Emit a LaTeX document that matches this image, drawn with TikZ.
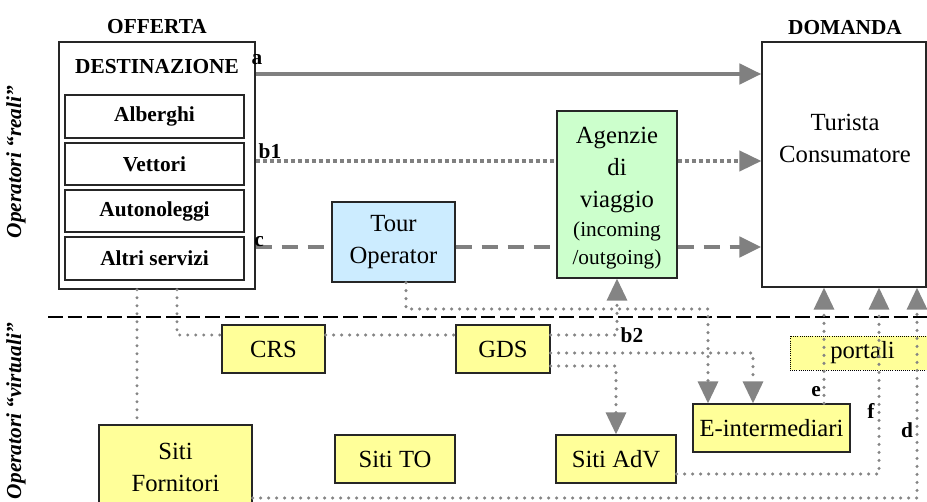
\documentclass[tikz,border=0pt]{standalone}
\usepackage{fontspec}
\setmainfont{Liberation Serif}
\usetikzlibrary{arrows.meta,calc}
\definecolor{ygold}{RGB}{255,255,153}
\definecolor{agreen}{RGB}{204,255,204}
\definecolor{tblue}{RGB}{204,236,255}
\definecolor{lgray}{RGB}{128,128,128}
\definecolor{dgray}{RGB}{132,132,132}
\newcommand\mainf{\fontsize{18.5}{24}\selectfont}
\newcommand\labf{\fontsize{16}{19}\selectfont\bfseries}
\newcommand\smallf{\fontsize{16}{21}\selectfont}
\begin{document}
\begin{tikzpicture}[x=0.75pt,y=-0.75pt,
  >={Triangle[length=16.5pt,width=15pt]},
  box/.style={draw=black!85, line width=0.9pt, inner sep=0pt, align=center, font=\mainf},
  inbox/.style={box, minimum width=134.25pt, font=\labf},
  ybox/.style={box, fill=ygold},
  txt/.style={inner sep=0pt, align=center, font=\mainf},
  lab/.style={inner sep=0pt, font=\labf},
  aline/.style={draw=lgray, line width=3.5pt},
  bline/.style={draw=lgray, line width=3pt, dash pattern=on 3pt off 2.25pt},
  cline/.style={draw=lgray, line width=3.6pt, dash pattern=on 12pt off 7.5pt},
  dotc/.style={draw=dgray, line width=2.5pt, dash pattern=on 0pt off 6pt, line cap=round},
  sepline/.style={draw=black, line width=0.9pt, dash pattern=on 11pt off 3.75pt}
]
\useasboundingbox (0,0) rectangle (927,502);

% coordinates for rows and columns
\coordinate (xA) at (137,0);
\coordinate (xB) at (177,0);
\coordinate (xC) at (406,0);
\coordinate (xE) at (708,0);
\coordinate (xF) at (753,0);
\coordinate (xG) at (824,0);
\coordinate (xH) at (879,0);
\coordinate (xI) at (917,0);
\coordinate (yA) at (0,74);
\coordinate (yB) at (0,161);
\coordinate (yC) at (0,247);
\coordinate (yR1) at (0,309);
\coordinate (yR2) at (0,335);
\coordinate (yR3) at (0,353);
\coordinate (yR4) at (0,366);
\coordinate (yR5) at (0,474);
\coordinate (yR6) at (0,498);
\coordinate (sepL) at (48,317);
\coordinate (sepR) at (930,317);

% separator
\draw[sepline] (sepL) -- (sepR);

% side labels
\node[lab, font=\labf\itshape, rotate=90] (reali) at (16,162) {Operatori “reali”};
\node[lab, font=\labf\itshape, rotate=90] (virtuali) at (16,411) {Operatori “virtuali”};

% offerta
\node[lab] (offerta) at (157,27) {OFFERTA};
\node[box, minimum width=147pt, minimum height=185.25pt, line width=1.1pt] (dest) at (157,165.5) {};
\node[lab] (destlab) at (157,67) {DESTINAZIONE};
\node[inbox, minimum height=32.25pt] (alb) at (154.5,116.5) {Alberghi};
\node[inbox, minimum height=31.5pt] (vet) at (154.5,164) {Vettori};
\node[inbox, minimum height=31.5pt] (aut) at (154.5,211) {Autonoleggi};
\node[inbox, minimum height=32.25pt] (alt) at (154.5,258.5) {Altri servizi};

% domanda
\node[lab] (domanda) at (845,28) {DOMANDA};
\node[box, minimum width=123pt, minimum height=183.75pt] (tur) at (844,164.5) {};
\node[txt] (turtxt) at (845,138) {Turista\\Consumatore};

% intermediari reali
\node[box, fill=agreen, minimum width=90pt, minimum height=125.25pt] (age) at (617,194.5) {};
\node[txt] (agetxt) at (617,170) {Agenzie\\di\\viaggio};
\node[txt, font=\smallf] (agesub) at (617,245) {(incoming\\/outgoing)};
\node[box, fill=tblue, minimum width=92.25pt, minimum height=60pt] (to) at (393.5,242) {Tour\\Operator};

% virtuali
\node[ybox, minimum width=77.25pt, minimum height=36pt] (crs) at (273.5,349) {CRS};
\node[ybox, minimum width=70.5pt, minimum height=36pt] (gds) at (503,349) {GDS};
\node[ybox, minimum width=90pt, minimum height=36pt] (sto) at (395,459) {Siti TO};
\node[ybox, minimum width=90pt, minimum height=36pt] (sadv) at (616,459) {Siti AdV};
\node[ybox, minimum width=117.75pt, minimum height=36pt] (eint) at (771.5,428) {E-intermediari};
\node[ybox, minimum width=114.75pt, minimum height=63pt] (sf) at (175.5,467) {Siti\\Fornitori};
\node[ybox, draw=black, line width=0.6pt, densely dotted, minimum width=108.75pt, minimum height=25.5pt] (portali) at (862.5,353) {portali};

% top connectors
\draw[aline, ->] (dest.east |- yA) -- (tur.west |- yA);
\draw[bline] (dest.east |- yB) -- (age.west |- yB);
\draw[bline, ->] (age.east |- yB) -- (tur.west |- yB);
\draw[cline] (dest.east |- yC) -- (to.west |- yC);
\draw[cline] (to.east |- yC) -- (age.west |- yC);
\draw[cline, ->] (age.east |- yC) -- (tur.west |- yC);

% dotted connectors
\draw[dotc] (dest.south -| xA) -- (sf.north -| xA);
\draw[dotc] (dest.south -| xB) |- (crs.west |- yR2);
\draw[dotc] (crs.east |- yR2) -- (gds.west |- yR2);
\draw[dotc, ->] (to.south -| xC) |- (xE |- yR1) -- (eint.north -| xE);
\draw[dotc, ->] (gds.east |- yR2) -| (age.south);
\draw[dotc, ->] (gds.east |- yR3) -| (eint.north -| xF);
\draw[dotc, ->] (gds.east |- yR4) -| (sadv.north);
\draw[dotc, ->] (eint.north -| xG) -- (tur.south -| xG);
\draw[dotc, ->] (sadv.east |- yR5) -| (tur.south -| xH);
\draw[dotc, ->] (sf.east |- yR6) -| (tur.south -| xI);

% connector labels
\node[lab] (la) at (257,60) {a};
\node[lab] (lb1) at (270,151) {b1};
\node[lab] (lc) at (259,242) {c};
\node[lab] (lb2) at (632,335) {b2};
\node[lab] (le) at (816,392) {e};
\node[lab] (lf) at (871,411) {f};
\node[lab] (ld) at (907,430) {d};
\end{tikzpicture}
\end{document}
